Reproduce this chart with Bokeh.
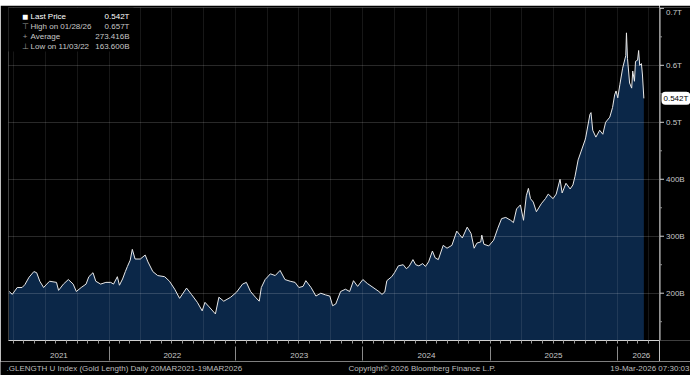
import pandas as pd
from bokeh.plotting import figure
from bokeh.layouts import row, column
from bokeh.models import (LinearAxis, FixedTicker, Range1d, Label, Grid,
                          BoxAnnotation, DatetimeTickFormatter)
from bokeh.core.properties import value
from bokeh.embed import file_html
from bokeh.resources import INLINE

# ---------------- data (values in billions) ----------------
dates = [
    "2021-03-20", "2021-03-29", "2021-04-12", "2021-04-26", "2021-05-04", "2021-05-16",
    "2021-05-30", "2021-06-07", "2021-06-16", "2021-06-27", "2021-07-06", "2021-07-14",
    "2021-08-03", "2021-08-09", "2021-08-23", "2021-09-06", "2021-09-20", "2021-09-29",
    "2021-10-13", "2021-10-27", "2021-11-04", "2021-11-16", "2021-11-24", "2021-12-08",
    "2021-12-23", "2022-01-06", "2022-01-14", "2022-01-25", "2022-01-31", "2022-02-09",
    "2022-02-17", "2022-02-23", "2022-03-03", "2022-03-09", "2022-03-17", "2022-04-01",
    "2022-04-15", "2022-04-23", "2022-05-07", "2022-05-21", "2022-06-10", "2022-06-24",
    "2022-07-09", "2022-07-23", "2022-08-12", "2022-08-26", "2022-09-12", "2022-09-26",
    "2022-10-04", "2022-10-16", "2022-11-03", "2022-11-13", "2022-11-27", "2022-12-17",
    "2023-01-03", "2023-01-20", "2023-01-31", "2023-02-12", "2023-02-26", "2023-03-09",
    "2023-03-15", "2023-03-26", "2023-04-10", "2023-04-24", "2023-05-08", "2023-05-22",
    "2023-06-06", "2023-06-20", "2023-07-01", "2023-07-13", "2023-07-21", "2023-08-05",
    "2023-08-19", "2023-09-02", "2023-09-16", "2023-09-28", "2023-10-06", "2023-10-15",
    "2023-10-29", "2023-11-12", "2023-11-24", "2023-12-05", "2023-12-17", "2024-01-01",
    "2024-01-14", "2024-02-02", "2024-02-16", "2024-02-25", "2024-03-04", "2024-03-10",
    "2024-03-24", "2024-04-01", "2024-04-12", "2024-04-26", "2024-05-05", "2024-05-13",
    "2024-05-24", "2024-06-01", "2024-06-10", "2024-06-21", "2024-06-29", "2024-07-08",
    "2024-07-19", "2024-07-27", "2024-08-05", "2024-08-19", "2024-08-30", "2024-09-13",
    "2024-09-27", "2024-10-05", "2024-10-13", "2024-10-27", "2024-11-07", "2024-11-16",
    "2024-11-24", "2024-12-05", "2024-12-08", "2024-12-14", "2024-12-28", "2025-01-11",
    "2025-01-23", "2025-02-03", "2025-02-15", "2025-03-01", "2025-03-09", "2025-03-18",
    "2025-03-29", "2025-04-07", "2025-04-15", "2025-04-21", "2025-04-27", "2025-05-05",
    "2025-05-14", "2025-05-28", "2025-06-09", "2025-06-17", "2025-07-01", "2025-07-10",
    "2025-07-21", "2025-07-27", "2025-08-07", "2025-08-19", "2025-08-27", "2025-09-02",
    "2025-09-11", "2025-09-19", "2025-10-01", "2025-10-03", "2025-10-15", "2025-10-18",
    "2025-10-23", "2025-11-01", "2025-11-12", "2025-11-21", "2025-11-29", "2025-12-11",
    "2025-12-19", "2025-12-25", "2025-12-29", "2026-01-03", "2026-01-09", "2026-01-17",
    "2026-01-26", "2026-01-28", "2026-01-31", "2026-02-06", "2026-02-12", "2026-02-15",
    "2026-02-20", "2026-02-23", "2026-03-01", "2026-03-04", "2026-03-07", "2026-03-12",
    "2026-03-15", "2026-03-19",
]
values = [
    203, 198, 210, 210, 215, 228,
    238, 236, 221, 210, 216, 221,
    219, 205, 216, 224, 216, 203,
    210, 216, 229, 236, 221, 216,
    219, 219, 216, 229, 214, 225,
    238, 247, 258, 277, 260, 260,
    267, 255, 238, 231, 229, 221,
    207, 191, 209, 198, 184, 169,
    184, 176, 163.6, 193, 186, 193,
    202, 216, 219, 203, 193, 186,
    210, 224, 234, 231, 240, 224,
    221, 219, 210, 212, 222, 210,
    195, 200, 197, 195, 178, 181,
    203, 207, 203, 222, 212, 224,
    217, 209, 203, 198, 202, 222,
    229, 236, 248, 250, 243, 247,
    259, 250, 248, 252, 247, 255,
    274, 262, 259, 284, 279, 284,
    309, 303, 297, 316, 305, 279,
    288, 290, 302, 286, 283, 293,
    314, 331, 333, 328, 324, 348,
    355, 328, 371, 384, 366, 360,
    343, 357, 366, 374, 366, 374,
    400, 376, 393, 383, 390, 405,
    434, 448, 469, 474, 514, 517,
    486, 474, 486, 479, 500, 509,
    526, 548, 555, 543, 566, 595,
    617, 657, 612, 569, 560, 590,
    572, 607, 609, 626, 600, 603,
    583, 542,
]

y_ticks = [200, 300, 400, 500, 600, 700]
y_tick_labels = ["200B", "300B", "400B", "0.5T", "0.6T", "0.7T"]
y_minor = [150, 250, 350, 450, 550, 650]
year_bounds = ["2022-01-01", "2023-01-01", "2024-01-01", "2025-01-01", "2026-01-01"]
year_label_dates = ["2021-08-10", "2022-07-02", "2023-07-02", "2024-07-02", "2025-07-02", "2026-03-12"]

legend_names = ["Last Price", "High on 01/28/26", "Average", "Low on 11/03/22"]
legend_values = ["0.542T", "0.657T", "273.416B", "163.600B"]
last_price_label = "0.542T"

footer_texts = [".GLENGTH U Index (Gold Length) Daily 20MAR2021-19MAR2026",
                "Copyright\u00a9 2026 Bloomberg Finance L.P.",
                "19-Mar-2026 07:30:03"]


def ms(s):
    return pd.Timestamp(s).value / 1e6


x = [ms(d) for d in dates]
x_start = ms("2021-03-18")
x_end = ms("2026-05-03")
y_start, y_end = 117.0, 701.5

# layout (px)
TOP_H = 5
MAIN_W, STRIP_W, MAIN_H, FOOT_H = 659, 31, 356, 14
B_LEFT, B_TOP, B_BOTTOM = 8, 2, 21
FW = MAIN_W - B_LEFT
FH = MAIN_H - B_TOP - B_BOTTOM
K = (y_end - y_start) / FH  # data units per px


def x_at_px(px):
    return x_start + px / FW * (x_end - x_start)


def y_at_px(py):
    return y_end - py * K


FONT = "Liberation Sans"
TXT = "#c8c8c8"
AXC = "#d0d0d0"

p = figure(width=MAIN_W, height=MAIN_H, output_backend="svg", toolbar_location=None,
           x_range=Range1d(x_start, x_end), y_range=Range1d(y_start, y_end),
           x_axis_location=None, y_axis_location=None,
           background_fill_color="black", border_fill_color="black",
           min_border_left=B_LEFT, min_border_right=0, min_border_top=B_TOP,
           min_border_bottom=B_BOTTOM)
p.outline_line_color = None
p.grid.visible = False

# area + line
p.varea(x=x, y1=0, y2=values, fill_color="#0b2748")
p.line(x=x, y=values, line_color="#e8e8e8", line_width=1.0)

# grids
quarters = [ms(d) for d in pd.date_range("2021-04-01", "2026-04-01", freq="QS")]
months = [ms(d) for d in pd.date_range("2021-04-01", "2026-04-01", freq="MS")]
p.add_layout(Grid(dimension=1, ticker=FixedTicker(ticks=y_ticks[:-1]),
                  grid_line_color="white", grid_line_alpha=0.16, level="guide"))
p.add_layout(Grid(dimension=0, ticker=FixedTicker(ticks=quarters),
                  grid_line_color="white", grid_line_alpha=0.09, level="guide"))

# x axis A: axis line, monthly ticks, year labels
fmt = DatetimeTickFormatter(microseconds="%Y", milliseconds="%Y", seconds="%Y", minsec="%Y",
                            minutes="%Y", hourmin="%Y", hours="%Y", days="%Y",
                            months="%Y", years="%Y")
xaxA = LinearAxis(ticker=FixedTicker(ticks=[ms(d) for d in year_label_dates], minor_ticks=months),
                  formatter=fmt, axis_line_color=AXC, major_tick_line_color=None,
                  major_tick_out=0, major_tick_in=0, minor_tick_out=3, minor_tick_in=0,
                  minor_tick_line_color="#9a9a9a", major_label_standoff=9,
                  major_label_text_color=TXT, major_label_text_font=FONT,
                  major_label_text_font_size="8px")
p.add_layout(xaxA, "below")
# x axis B: year separators reaching up
xaxB = LinearAxis(ticker=FixedTicker(ticks=[], minor_ticks=[ms(d) for d in year_bounds]),
                  axis_line_color=None, major_tick_line_color=None, major_tick_out=0,
                  major_tick_in=0, major_label_text_font_size="0px", major_label_standoff=0,
                  minor_tick_in=14, minor_tick_out=0, minor_tick_line_color="#8a8a8a")
p.add_layout(xaxB, "below")

# legend box + texts
p.add_layout(BoxAnnotation(left=x_at_px(-8), right=x_at_px(125), top=y_end, bottom=y_at_px(44),
                           fill_color="black", fill_alpha=1.0, line_color=None,
                           level="annotation"))
row_y = [9.3, 19.3, 29.0, 38.5]
icons = ["\u25a0", "\u22a4", "+", "\u22a5"]
for i, (nm, val) in enumerate(zip(legend_names, legend_values)):
    col = "white" if i == 0 else TXT
    p.add_layout(Label(x=x_start, y=y_end, x_offset=22, y_offset=-row_y[i], text=nm,
                       text_baseline="middle", text_color=col, text_font=FONT,
                       text_font_size="8px"))
    p.add_layout(Label(x=x_start, y=y_end, x_offset=121, y_offset=-row_y[i], text=val,
                       text_baseline="middle", text_align="right", text_color=col,
                       text_font=FONT, text_font_size="8px"))
    p.add_layout(Label(x=x_start, y=y_end, x_offset=16.5, y_offset=-row_y[i], text=icons[i],
                       text_baseline="middle", text_align="center",
                       text_color="white" if i == 0 else "#9a9a9a", text_font=FONT,
                       text_font_size="10px" if i == 0 else "8px"))

# ---------------- right strip: value axis + last price tag ----------------
s = figure(width=STRIP_W, height=MAIN_H, output_backend="svg", toolbar_location=None,
           x_range=Range1d(-0.5, STRIP_W - 0.5), y_range=p.y_range,
           x_axis_location=None, y_axis_location=None,
           background_fill_color="black", border_fill_color="black",
           min_border_left=0, min_border_right=0, min_border_top=B_TOP,
           min_border_bottom=B_BOTTOM)
s.outline_line_color = None
s.grid.visible = False
s.segment(x0=[0], y0=[y_start], x1=[0], y1=[y_end], line_color=AXC, line_width=1)
s.segment(x0=[0] * len(y_ticks), y0=y_ticks, x1=[4] * len(y_ticks), y1=y_ticks,
          line_color=AXC, line_width=1)
s.segment(x0=[0] * len(y_minor), y0=y_minor, x1=[2] * len(y_minor), y1=y_minor,
          line_color="#909090", line_width=1)
s.text(x=[6] * len(y_ticks), y=y_ticks, text=y_tick_labels,
       text_baseline=["middle"] * (len(y_ticks) - 1) + ["top"],
       text_align="left", text_color=TXT, text_font=value(FONT),
       text_font_size=value("8px"))
s.add_layout(Label(x=1.5, y=values[-1], text=last_price_label, text_baseline="middle",
                   text_align="left", text_color="black", text_font=FONT,
                   text_font_size="8px", background_fill_color="white",
                   border_radius=4, padding=2))

# ---------------- top light band ----------------
t = figure(width=MAIN_W + STRIP_W, height=TOP_H, output_backend="svg", toolbar_location=None,
           x_range=Range1d(0, 1), y_range=Range1d(0, 1),
           x_axis_location=None, y_axis_location=None,
           background_fill_color="#ececec", border_fill_color="#ececec",
           min_border_left=0, min_border_right=0, min_border_top=0, min_border_bottom=0)
t.outline_line_color = None
t.grid.visible = False
t.quad(left=[0], right=[1], bottom=[0], top=[1], fill_color="#ececec", line_color=None)

# ---------------- footer ----------------
f = figure(width=MAIN_W + STRIP_W, height=FOOT_H, output_backend="svg", toolbar_location=None,
           x_range=Range1d(0, MAIN_W + STRIP_W), y_range=Range1d(0, FOOT_H),
           x_axis_location=None, y_axis_location=None,
           background_fill_color="black", border_fill_color="black",
           min_border_left=0, min_border_right=0, min_border_top=0, min_border_bottom=0)
f.outline_line_color = None
f.grid.visible = False
f.text(x=[6, 348, MAIN_W + STRIP_W - 1], y=[FOOT_H / 2 + 0.5] * 3, text=footer_texts,
       text_align=["left", "left", "right"], text_baseline="middle",
       text_color="#bdbdbd", text_font=value(FONT), text_font_size=value("8px"))

layout = column(t, row(p, s), f)
open("out.html", "w").write(file_html(layout, INLINE))
